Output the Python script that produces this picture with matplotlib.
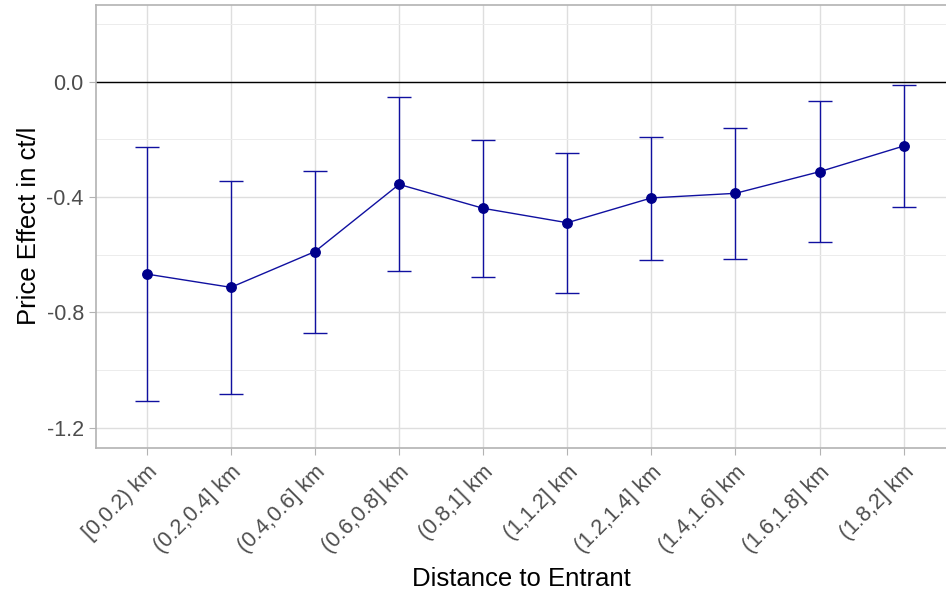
import matplotlib
matplotlib.use("Agg")
import matplotlib.pyplot as plt
from matplotlib.ticker import FixedLocator

plt.rcParams['font.family'] = ['Liberation Sans', 'DejaVu Sans']

categories = ['[0,0.2) km', '(0.2,0.4] km', '(0.4,0.6] km', '(0.6,0.8] km', '(0.8,1] km',
              '(1,1.2] km', '(1.2,1.4] km', '(1.4,1.6] km', '(1.6,1.8] km', '(1.8,2] km']
estimate = [-0.667, -0.713, -0.589, -0.356, -0.439, -0.489, -0.403, -0.387, -0.312, -0.223]
upper = [-0.226, -0.343, -0.308, -0.053, -0.202, -0.247, -0.191, -0.159, -0.068, -0.010]
lower = [-1.107, -1.083, -0.870, -0.658, -0.677, -0.732, -0.617, -0.613, -0.555, -0.434]
yticks = [0.0, -0.4, -0.8, -1.2]
yticklabels = ['0.0', '-0.4', '-0.8', '-1.2']

fig = plt.figure(figsize=(9.46, 5.97), dpi=100)
ax = fig.add_axes([96.3/946, 1 - 447.7/597, 1 - 96.3/946, (447.7 - 4.7)/597])

x = list(range(1, len(categories) + 1))
yerr = [[e - l for e, l in zip(estimate, lower)], [u - e for u, e in zip(upper, estimate)]]

ax.axhline(0, color='black', linewidth=1.0, zorder=2)
ax.errorbar(x, estimate, yerr=yerr, fmt='none', ecolor='#1010a0', elinewidth=1.0,
            capsize=8.7, capthick=1.0, zorder=3)
ax.plot(x, estimate, color='#1010a0', linewidth=1.0, zorder=3)
ax.plot(x, estimate, 'o', color='#00008B', markersize=6.8, zorder=4)

ax.set_xlim(0.4, 10.503)
ax.set_ylim(-1.269, 0.267)
ax.set_xticks(x)
ax.set_xticklabels(categories, rotation=45, ha='right', va='top', rotation_mode='anchor')
ax.yaxis.set_major_locator(FixedLocator(yticks))
ax.set_yticklabels(yticklabels)
ax.yaxis.set_minor_locator(FixedLocator([0.2, -0.2, -0.6, -1.0]))

ax.grid(True, which='major', color='#dedede', linewidth=1.0, zorder=0)
ax.grid(True, which='minor', axis='y', color='#ececec', linewidth=0.7, zorder=0)
ax.set_axisbelow(True)

ax.tick_params(axis='both', which='major', colors='#b3b3b3', length=5, width=0.8,
               labelcolor='#4d4d4d', labelsize=15.5)
ax.tick_params(axis='x', pad=5)
ax.tick_params(axis='y', pad=4)
ax.tick_params(axis='y', which='minor', length=0)

for side in ['left', 'top', 'bottom']:
    ax.spines[side].set_color('#b3b3b3')
    ax.spines[side].set_linewidth(1.2)
ax.spines['right'].set_visible(False)

ax.set_xlabel('Distance to Entrant', fontsize=18.5, color='black', labelpad=7)
ax.set_ylabel('Price Effect in ct/l', fontsize=18.5, color='black', labelpad=4)

fig.savefig('out.png', dpi=100)
